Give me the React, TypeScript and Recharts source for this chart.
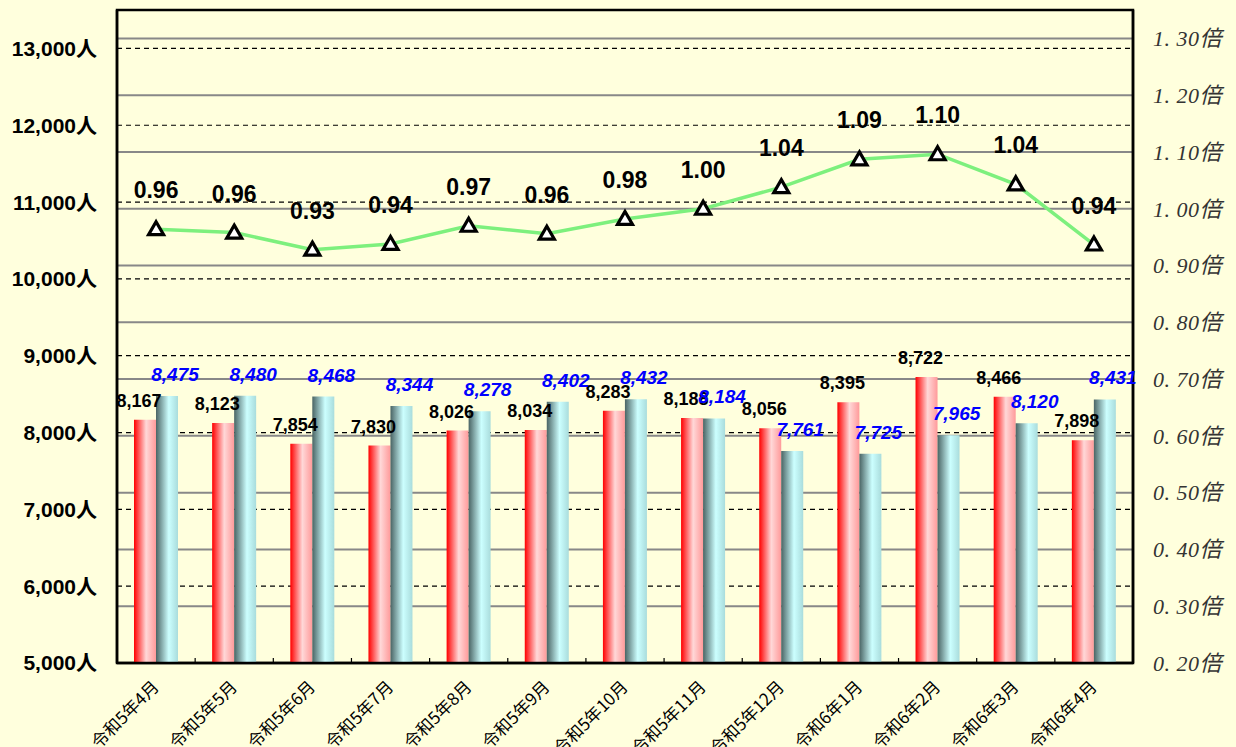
import React from 'react';
import { ComposedChart, Bar, Line, XAxis, YAxis, CartesianGrid, LabelList, ReferenceArea } from 'recharts';

const months = [
  '令和5年4月', '令和5年5月', '令和5年6月', '令和5年7月', '令和5年8月', '令和5年9月',
  '令和5年10月', '令和5年11月', '令和5年12月', '令和6年1月', '令和6年2月', '令和6年3月', '令和6年4月',
];
const seriesRed = [8167, 8123, 7854, 7830, 8026, 8034, 8283, 8188, 8056, 8395, 8722, 8466, 7898];
const seriesTeal = [8475, 8480, 8468, 8344, 8278, 8402, 8432, 8184, 7761, 7725, 7965, 8120, 8431];
const ratio = [0.964, 0.958, 0.928, 0.938, 0.970, 0.956, 0.982, 1.0, 1.038, 1.087, 1.096, 1.043, 0.937];
const leftTicks = [5000, 6000, 7000, 8000, 9000, 10000, 11000, 12000, 13000];
const rightTicks = [0.2, 0.3, 0.4, 0.5, 0.6, 0.7, 0.8, 0.9, 1.0, 1.1, 1.2, 1.3];
const leftDomain = [5000, 13500];
const rightDomain = [0.2, 1.35];

const data = months.map((m, i) => ({ month: m, red: seriesRed[i], teal: seriesTeal[i], ratio: ratio[i] }));

const W = 1236;
const H = 747;
const LEFT_W = 117;
const RIGHT_W = 103;
const BAND = (W - LEFT_W - RIGHT_W) / months.length;
const SANS = "'Liberation Sans', Arial, 'Noto Sans CJK JP', sans-serif";
const CJK = "'Noto Sans CJK JP', 'Liberation Sans', sans-serif";
const SERIF = "'Liberation Serif', 'Times New Roman', 'Noto Sans CJK JP', serif";

const fmt = (v: number) => v.toLocaleString('en-US');

const XTick = (props: any) => {
  const { x, y, payload, index } = props;
  const tx = x + 4;
  const ty = y + 25;
  return (
    <g>
      {index < months.length - 1 && (
        <line x1={x + BAND / 2} x2={x + BAND / 2} y1={y - 5} y2={y} stroke="#000" strokeWidth={1.2} />
      )}
      <text
        x={tx}
        y={ty}
        transform={`rotate(-45 ${tx} ${ty})`}
        textAnchor="end"
        fontSize={17}
        fill="#000"
        fontFamily={CJK}
      >
        {payload.value}
      </text>
    </g>
  );
};

const getBox = (p: any) => {
  const vb = p.viewBox || {};
  return {
    x: p.x ?? vb.x,
    y: p.y ?? vb.y,
    width: p.width ?? vb.width ?? 0,
  };
};

const redLabel = (p: any) => {
  const b = getBox(p);
  return (
    <text x={b.x + b.width / 2 - 6} y={b.y - 13} textAnchor="middle" fontSize={18} fontWeight="bold" fill="#000" fontFamily={SANS}>
      {fmt(Number(p.value))}
    </text>
  );
};

const tealLabel = (p: any) => {
  const b = getBox(p);
  return (
    <text
      x={b.x + b.width / 2 + 8}
      y={b.y - 15}
      textAnchor="middle"
      fontSize={19}
      fontWeight="bold"
      fontStyle="italic"
      fill="#0000ff"
      fontFamily={SANS}
    >
      {fmt(Number(p.value))}
    </text>
  );
};

const ratioLabel = (p: any) => {
  const b = getBox(p);
  return (
    <text x={b.x} y={b.y - 31} textAnchor="middle" fontSize={23} fontWeight="bold" fill="#000" fontFamily={SANS}>
      {Number(p.value).toFixed(2)}
    </text>
  );
};

const triDot = (p: any) => {
  const { cx, cy, index } = p;
  if (cx == null || cy == null) return <g key={`d${index}`} />;
  const d = `M ${cx} ${cy - 7.5} L ${cx + 7.5} ${cy + 5.5} L ${cx - 7.5} ${cy + 5.5} Z`;
  return <path key={`d${index}`} d={d} fill="#fff" stroke="#000" strokeWidth={3.2} strokeLinejoin="miter" />;
};

export default function App() {
  return (
    <div style={{ position: 'absolute', left: 0, top: 0, width: W, height: H, background: '#ffffdd' }}>
      <ComposedChart width={W} height={H} data={data} margin={{ top: 10, right: 0, left: 0, bottom: 0 }} barGap={0}>
        <defs>
          <linearGradient id="gRed" x1="0" y1="0" x2="1" y2="0">
            <stop offset="0%" stopColor="#ff0000" />
            <stop offset="55%" stopColor="#ffd8d8" />
            <stop offset="100%" stopColor="#ff9a9a" />
          </linearGradient>
          <linearGradient id="gTeal" x1="0" y1="0" x2="1" y2="0">
            <stop offset="0%" stopColor="#4a6464" />
            <stop offset="58%" stopColor="#ccffff" />
            <stop offset="100%" stopColor="#a9dcdc" />
          </linearGradient>
        </defs>
        <CartesianGrid yAxisId="right" vertical={false} stroke="#888" strokeWidth={2} />
        <CartesianGrid yAxisId="left" vertical={false} stroke="#000" strokeDasharray="5 4" strokeWidth={1.2} />
        <ReferenceArea
          yAxisId="left"
          y1={leftDomain[0]}
          y2={leftDomain[1]}
          fill="none"
          fillOpacity={0}
          stroke="#000"
          strokeWidth={2.5}
          strokeOpacity={1}
          ifOverflow="visible"
        />
        <XAxis
          dataKey="month"
          height={84}
          interval={0}
          tickSize={0}
          tickMargin={0}
          tickLine={false}
          axisLine={{ stroke: '#000', strokeWidth: 2.5 }}
          tick={<XTick />}
        />
        <YAxis
          yAxisId="left"
          width={LEFT_W}
          domain={leftDomain}
          ticks={leftTicks}
          interval={0}
          tickSize={0}
          tickMargin={20}
          tickLine={false}
          axisLine={{ stroke: '#000', strokeWidth: 2.5 }}
          tickFormatter={(v: number) => `${fmt(v)}人`}
          tick={{ fontSize: 21, fontWeight: 'bold', fill: '#000', fontFamily: SANS }}
        />
        <YAxis
          yAxisId="right"
          orientation="right"
          width={RIGHT_W}
          domain={rightDomain}
          ticks={rightTicks}
          interval={0}
          tickSize={0}
          tickMargin={20}
          tickLine={false}
          axisLine={{ stroke: '#000', strokeWidth: 2.5 }}
          tickFormatter={(v: number) => `${v.toFixed(2).replace('.', '.\u00a0')}倍`}
          tick={{ fontSize: 22, fontStyle: 'italic', fill: '#333', fontFamily: SERIF, textAnchor: 'start', letterSpacing: 0.5 }}
        />
        <Bar yAxisId="left" dataKey="red" fill="url(#gRed)" barSize={22} isAnimationActive={false}>
          <LabelList dataKey="red" content={redLabel} />
        </Bar>
        <Bar yAxisId="left" dataKey="teal" fill="url(#gTeal)" barSize={22} isAnimationActive={false}>
          <LabelList dataKey="teal" content={tealLabel} />
        </Bar>
        <Line
          yAxisId="right"
          dataKey="ratio"
          stroke="#7df07d"
          strokeWidth={3.5}
          dot={triDot}
          activeDot={false}
          isAnimationActive={false}
        >
          <LabelList dataKey="ratio" content={ratioLabel} />
        </Line>
      </ComposedChart>
    </div>
  );
}
